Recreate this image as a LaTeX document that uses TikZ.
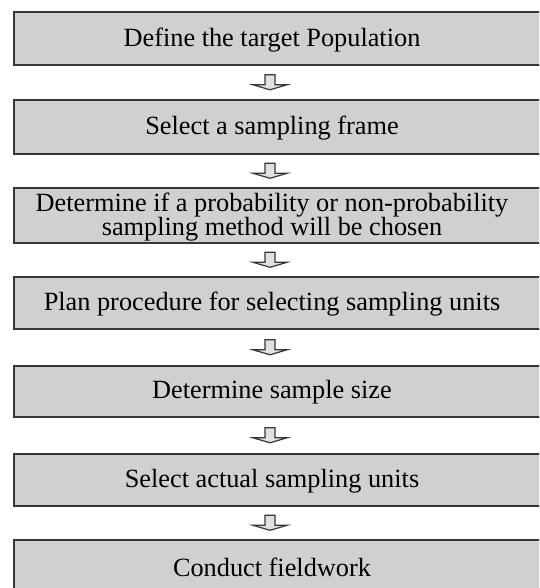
\documentclass[tikz,border=0pt]{standalone}
\usepackage{fontspec}
\setmainfont{Liberation Serif}
\begin{document}
\begin{tikzpicture}[x=1pt,y=-1pt,
  stepbox/.style={draw=boxline, fill=boxfill, line width=1.6pt, rectangle, inner sep=0pt, minimum width=560pt, anchor=north west},
  steptext/.style={text=black, font=\fontsize{26.3}{24}\selectfont, align=center, inner sep=0pt},
  blockarrow/.style={draw=boxline, fill=arrowfill, line width=1.2pt, line join=miter}]
\definecolor{boxfill}{RGB}{208,208,208}
\definecolor{boxline}{RGB}{55,55,55}
\definecolor{arrowfill}{RGB}{225,225,225}
\useasboundingbox (0,0) rectangle (539,588);
\clip (0,0) rectangle (539,588);
\fill[white] (0,0) rectangle (539,588);
\coordinate (ax) at (270,0);
% boxes
\node[stepbox, minimum height=53pt] (b1) at (13,11) {};
\node[stepbox, minimum height=54pt] (b2) at (13,99) {};
\node[stepbox, minimum height=55pt] (b3) at (13,187) {};
\node[stepbox, minimum height=52pt] (b4) at (13,276) {};
\node[stepbox, minimum height=51pt] (b5) at (13,365) {};
\node[stepbox, minimum height=52pt] (b6) at (13,453) {};
\node[stepbox, minimum height=60pt] (b7) at (13,539) {};
% texts
\node[steptext] (t1) at (272,40.5) {Define the target Population};
\node[steptext] (t2) at (272,128.5) {Select a sampling frame};
\node[steptext] (t3) at (272,217) {Determine if a probability or non-probability\\sampling method will be chosen};
\node[steptext] (t4) at (272,304.5) {Plan procedure for selecting sampling units};
\node[steptext] (t5) at (272,392.5) {Determine sample size};
\node[steptext] (t6) at (272,481) {Select actual sampling units};
\node[steptext] (t7) at (272,567) {Conduct fieldwork};
% block arrows between boxes
\foreach \a/\b in {b1/b2,b2/b3,b3/b4,b4/b5,b5/b6,b6/b7}{
  \path (\a.south) -- (\b.north) coordinate[pos=0.5] (m);
  \coordinate (c) at (m -| ax);
  \draw[blockarrow] ([shift={(-5,-7.5)}]c) -- ([shift={(-5,2.5)}]c) -- ([shift={(-17,2.5)}]c)
     -- ([shift={(0,7.5)}]c) -- ([shift={(17,2.5)}]c) -- ([shift={(5,2.5)}]c)
     -- ([shift={(5,-7.5)}]c) -- cycle;
}
\end{tikzpicture}
\end{document}
